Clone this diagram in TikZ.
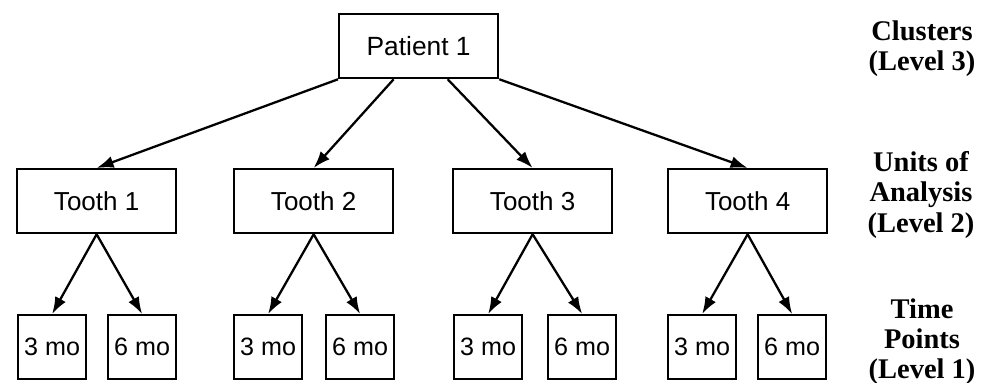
\documentclass[tikz,border=0pt]{standalone}
\usepackage{fontspec}
\setmainfont{Liberation Serif}
\setsansfont{Liberation Sans}
\usepackage{tikz}
\usetikzlibrary{calc,arrows.meta}
\tikzstyle{boite} = [rectangle, draw=black, line width=1.3pt, inner sep=0pt, minimum height=1.28cm, minimum width=3.18cm, text centered, font=\sffamily\fontsize{14.8}{17}\selectfont]
\tikzstyle{petite} = [rectangle, draw=black, line width=1.3pt, inner sep=0pt, minimum height=1.28cm, minimum width=1.36cm, text centered, font=\sffamily\fontsize{14.3}{17}\selectfont]
\tikzstyle{niveau} = [align=center, inner sep=0pt, font=\bfseries\fontsize{16.2}{17.1}\selectfont]
\tikzstyle{fleche} = [line width=1.3pt, -{Latex[length=0.34cm,width=0.24cm]}]

\begin{document}
\begin{tikzpicture}
        \useasboundingbox (0,0) rectangle (19.64,-7.66);

        \node (P) [boite, anchor=north west, font=\sffamily\fontsize{15}{17}\selectfont] at (6.76,-0.26) {Patient 1};

        \node (T1) [boite, anchor=north west] at (0.32,-3.36) {Tooth 1};
        \node (T2) [boite, anchor=north west] at (4.66,-3.36) {Tooth 2};
        \node (T3) [boite, anchor=north west] at (9.04,-3.36) {Tooth 3};
        \node (T4) [boite, anchor=north west] at (13.34,-3.36) {Tooth 4};

        \node (M13) [petite, anchor=north west] at (0.34,-6.28) {3 mo};
        \node (M16) [petite, anchor=north west] at (2.14,-6.28) {6 mo};
        \node (M23) [petite, anchor=north west] at (4.66,-6.28) {3 mo};
        \node (M26) [petite, anchor=north west] at (6.50,-6.28) {6 mo};
        \node (M33) [petite, anchor=north west] at (9.06,-6.28) {3 mo};
        \node (M36) [petite, anchor=north west] at (10.94,-6.28) {6 mo};
        \node (M43) [petite, anchor=north west] at (13.34,-6.28) {3 mo};
        \node (M46) [petite, anchor=north west] at (15.14,-6.28) {6 mo};

        \node (L3) [niveau] at (18.44,-0.98) {Clusters\\(Level 3)};
        \node (L2) [niveau] at (18.42,-3.9) {Units of\\Analysis\\(Level 2)};
        \node (L1) [niveau] at (18.44,-6.84) {Time\\Points\\(Level 1)};

        \draw [fleche] (P.south west) -- (T1.north);
        \draw [fleche] ($(P.south west)!0.345!(P.south east)$) -- (T2.north);
        \draw [fleche] ($(P.south west)!0.68!(P.south east)$) -- (T3.north);
        \draw [fleche] (P.south east) -- (T4.north);

        \draw [fleche] (T1.south) -- (M13.north);
        \draw [fleche] (T1.south) -- (M16.north);
        \draw [fleche] (T2.south) -- (M23.north);
        \draw [fleche] (T2.south) -- (M26.north);
        \draw [fleche] (T3.south) -- (M33.north);
        \draw [fleche] (T3.south) -- (M36.north);
        \draw [fleche] (T4.south) -- (M43.north);
        \draw [fleche] (T4.south) -- (M46.north);

    \end{tikzpicture}
\end{document}
